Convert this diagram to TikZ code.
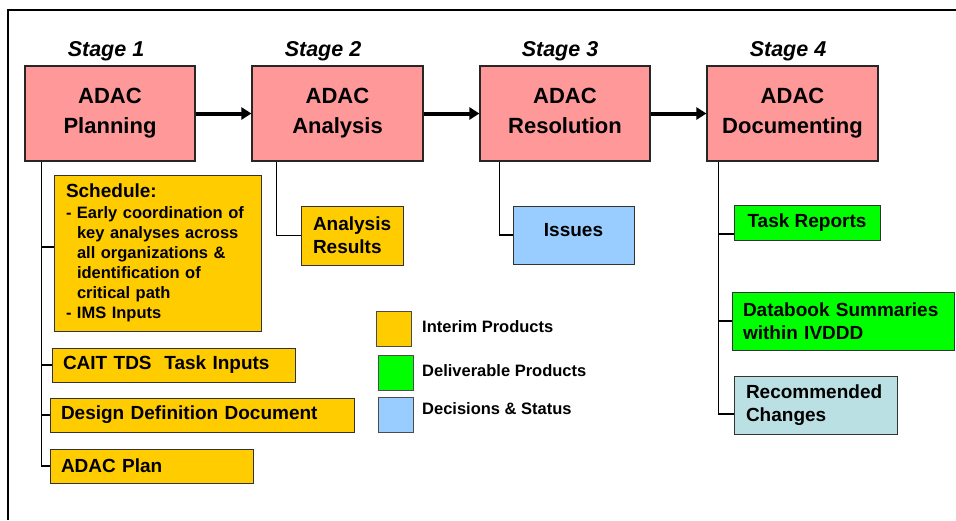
\documentclass[tikz,border=0pt]{standalone}
\usepackage{fontspec}
\setmainfont{Liberation Sans}
\usetikzlibrary{arrows.meta}
\definecolor{stagepink}{HTML}{FF9999}
\definecolor{interim}{HTML}{FFCC00}
\definecolor{deliver}{HTML}{00FF00}
\definecolor{decide}{HTML}{99CCFF}
\definecolor{recom}{HTML}{BBE0E3}
\tikzset{
  stagebox/.style={draw=black!85, line width=1.2pt, fill=stagepink, align=center,
    minimum width=170pt, minimum height=95pt, inner sep=0pt,
    font=\fontsize{22}{30}\selectfont\bfseries},
  stagelbl/.style={font=\fontsize{21.5}{24}\selectfont\bfseries\itshape, inner sep=0pt},
  prod/.style={draw=black!80, line width=0.9pt, inner ysep=0pt, inner xsep=11pt,
    font=\fontsize{19}{23}\selectfont\bfseries},
  leftprod/.style={prod, align=left},
  legsq/.style={draw=black!70, line width=0.9pt, minimum width=35pt, minimum height=35pt, inner sep=0pt},
  leglbl/.style={anchor=west, inner sep=0pt, font=\fontsize{16.5}{19}\selectfont\bfseries},
  flow/.style={line width=4pt, -{Triangle[length=10pt,width=12pt]}},
  tie/.style={line width=1.3pt}
}
\begin{document}
\begin{tikzpicture}[x=1pt,y=-1pt]
\useasboundingbox (0,0) rectangle (956,520);
% frame
\draw[line width=2pt] (8,520) -- (8,10) -- (956,10);
% stage labels
\node[stagelbl] (l1) at (106,51) {Stage 1};
\node[stagelbl] (l2) at (323,51) {Stage 2};
\node[stagelbl] (l3) at (560,51) {Stage 3};
\node[stagelbl] (l4) at (788,51) {Stage 4};
% stage boxes
\node[stagebox] (s1) at (110,113.5) {ADAC\\Planning};
\node[stagebox, minimum width=171pt] (s2) at (337.5,113.5) {ADAC\\Analysis};
\node[stagebox] (s3) at (565,113.5) {ADAC\\Resolution\vphantom{g}};
\node[stagebox, minimum width=171pt] (s4) at (792.5,113.5) {ADAC\\Documenting};
% flow arrows
\draw[flow] (s1.east) -- (s2.west);
\draw[flow] (s2.east) -- (s3.west);
\draw[flow] (s3.east) -- (s4.west);
% stage 1 products
\node[prod, fill=interim, align=left, text width=183pt, inner xsep=12pt, minimum height=156pt,
      font=\fontsize{16.5}{20}\selectfont\bfseries] (sched) at (157.5,253)
  {{\fontsize{19}{22}\selectfont Schedule:}\\[1pt]
   \makebox[11pt][l]{-}Early coordination of\\
   \hspace*{11pt}key analyses across\\
   \hspace*{11pt}all organizations \&\\
   \hspace*{11pt}identification of\\
   \hspace*{11pt}critical path\\
   \makebox[11pt][l]{-}IMS Inputs};
\node[leftprod, fill=interim, text width=221pt, minimum height=34pt] (cait) at (173.5,365) {CAIT TDS\ \ Task Inputs};
\node[leftprod, fill=interim, text width=282pt, minimum height=34pt] (ddd) at (202,415) {Design Definition Document};
\node[leftprod, fill=interim, text width=181pt, minimum height=34pt] (plan) at (151.5,466) {ADAC Plan};
% stage 2 products
\node[leftprod, fill=interim, text width=78pt, inner xsep=12pt, minimum height=59pt] (ar) at (352,235.5) {Analysis\\Results};
% stage 3 products
\node[prod, fill=decide, minimum width=121pt, minimum height=58pt, text depth=10pt] (iss) at (573.5,235) {Issues};
% stage 4 products
\node[prod, fill=deliver, minimum width=146pt, minimum height=35pt] (tr) at (807,222.5) {Task Reports};
\node[leftprod, fill=deliver, text width=200pt, minimum height=58pt] (db) at (843,321) {Databook Summaries\\within IVDDD};
\node[leftprod, fill=recom, text width=139pt, inner xsep=12pt, minimum height=58pt] (rc) at (815.5,405) {Recommended\\Changes};
% connectors
\coordinate (t1) at ([xshift=17pt]s1.south west);
\coordinate (t2) at ([xshift=25pt]s2.south west);
\coordinate (t3) at ([xshift=20pt]s3.south west);
\coordinate (t4) at ([xshift=12pt]s4.south west);
\draw[tie] (t1) |- (plan.west);
\draw[tie] (t1 |- sched.west) ++(0,-6) -- ([yshift=6pt]sched.west);
\draw[tie] (t1 |- cait.west) -- (cait.west);
\draw[tie] (t1 |- ddd.west) -- (ddd.west);
\draw[tie] (t2) |- (ar.west);
\draw[tie] (t3) |- (iss.west);
\draw[tie] (t4) |- ([yshift=-9pt]rc.west);
\draw[tie] (t4 |- tr.west) ++(0,11.5) -- ([yshift=-11.5pt]tr.west);
\draw[tie] (t4 |- db.west) -- (db.west);
% legend
\node[legsq, fill=interim] (k1) at (394,328.5) {};
\node[legsq, fill=deliver] (k2) at (396,372.5) {};
\node[legsq, fill=decide] (k3) at (396,414.5) {};
\node[leglbl] (k1t) at (422,327) {Interim Products};
\node[leglbl] (k2t) at (422,371) {Deliverable Products};
\node[leglbl] (k3t) at (422,409) {Decisions \& Status};
\end{tikzpicture}
\end{document}
